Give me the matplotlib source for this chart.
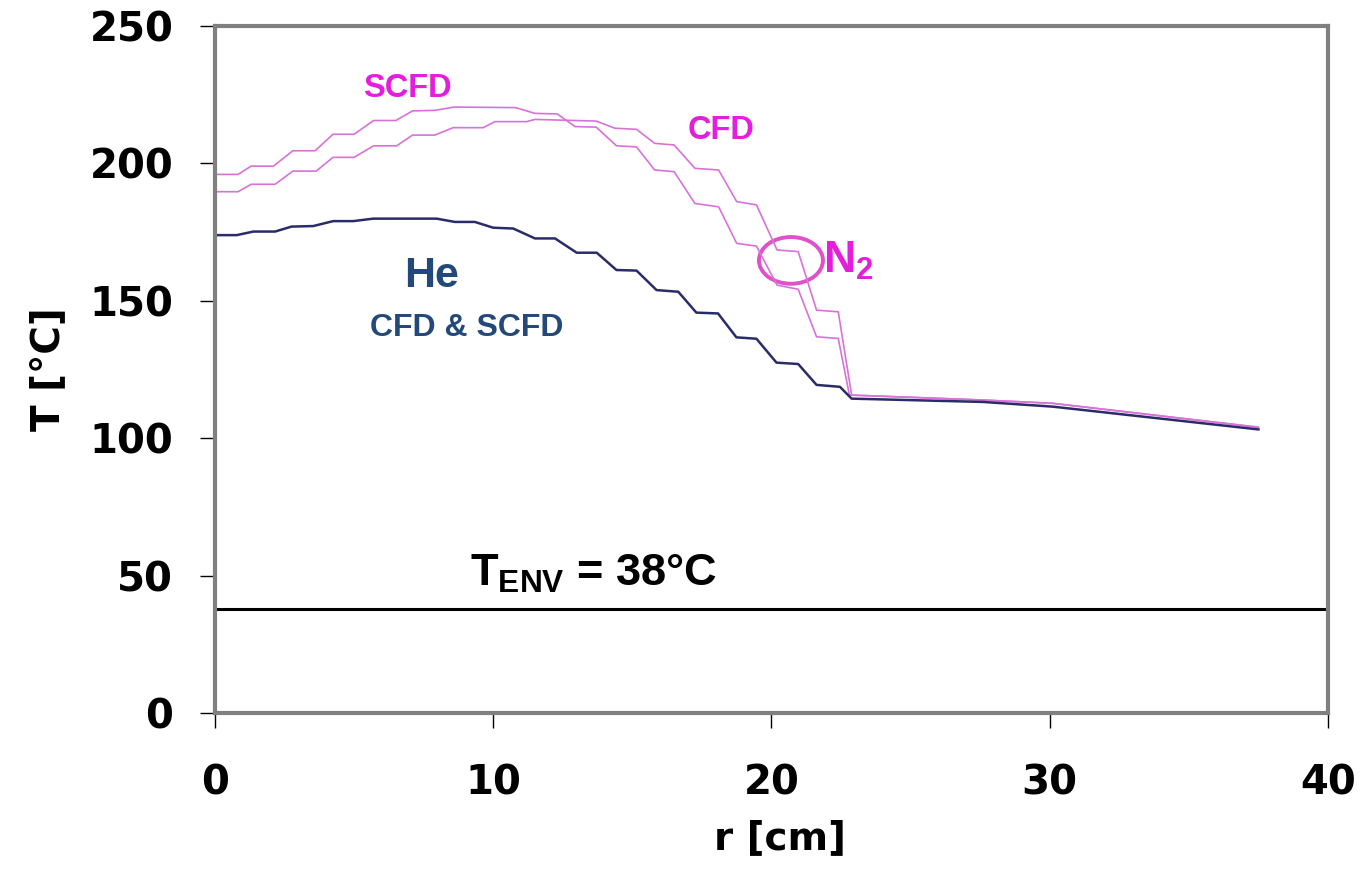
import matplotlib
matplotlib.use("Agg")
import matplotlib.pyplot as plt
from matplotlib.patches import Ellipse

plt.rcParams['font.family'] = ['Liberation Sans', 'DejaVu Sans']
plt.rcParams['mathtext.fontset'] = 'custom'
plt.rcParams['mathtext.rm'] = 'Liberation Sans:bold'
plt.rcParams['mathtext.bf'] = 'Liberation Sans:bold'

# Radial temperature profiles, r [cm] vs T [degC]
r_n2_scfd = [0, 0.83, 1.3, 2.1, 2.8, 3.6, 4.24, 5.0, 5.7, 6.5, 7.1, 7.9, 8.6, 10.8,
             11.5, 12.3, 12.94, 13.7, 14.43, 15.15, 15.8, 16.5, 17.25, 18.1, 18.75,
             19.46, 20.2, 20.96, 21.62, 22.4, 22.8, 27.6, 30.1, 37.5]
t_n2_scfd = [196.0, 196.0, 199.0, 199.0, 204.6, 204.6, 210.6, 210.6, 215.6, 215.6,
             219.1, 219.3, 220.5, 220.3, 218.2, 218.0, 213.4, 213.2, 206.4, 206.0,
             197.6, 197.0, 185.4, 184.2, 170.9, 169.9, 155.7, 154.2, 136.9, 136.3,
             115.7, 113.9, 112.7, 104.0]

r_n2_cfd = [0, 0.83, 1.3, 2.16, 2.8, 3.64, 4.24, 5.0, 5.7, 6.53, 7.1, 7.9, 8.56, 9.64,
            10.06, 11.2, 11.5, 13.7, 14.37, 15.15, 15.8, 16.5, 17.25, 18.1, 18.75,
            19.46, 20.2, 20.96, 21.62, 22.4, 22.88, 27.6, 30.1, 37.5]
t_n2_cfd = [189.7, 189.7, 192.4, 192.4, 197.2, 197.2, 202.2, 202.2, 206.4, 206.4,
            210.3, 210.3, 213.0, 213.0, 215.2, 215.2, 216.0, 215.4, 212.8, 212.4,
            207.3, 206.7, 198.2, 197.6, 186.1, 184.9, 168.5, 167.9, 146.6, 146.0,
            115.7, 113.9, 112.7, 104.0]

r_he = [0, 0.78, 1.38, 2.16, 2.75, 3.53, 4.25, 4.97, 5.69, 7.97, 8.62, 9.34, 10.0,
        10.72, 11.5, 12.22, 13.0, 13.72, 14.43, 15.15, 15.87, 16.65, 17.3, 18.08,
        18.74, 19.46, 20.18, 20.96, 21.62, 22.46, 22.88, 27.6, 30.1, 37.5]
t_he = [173.9, 173.9, 175.2, 175.2, 177.0, 177.2, 179.0, 179.0, 179.9, 179.9, 178.7,
        178.7, 176.6, 176.3, 172.7, 172.7, 167.5, 167.5, 161.2, 161.0, 153.9, 153.3,
        145.7, 145.4, 136.7, 136.2, 127.5, 127.0, 119.4, 118.7, 114.4, 113.2, 111.5,
        103.2]

t_env = 38

x_ticks = [0, 10, 20, 30, 40]
y_ticks = [0, 50, 100, 150, 200, 250]

pink = '#D872D8'
navy = '#2A2C6A'
magenta = '#E41EDC'
blue_txt = '#23497A'
frame = '#808080'
heavy = {'family': 'DejaVu Sans', 'weight': 'bold'}

fig = plt.figure(figsize=(13.64, 8.84), dpi=100)
ax = fig.add_axes([0.1576, 0.1934, 0.8160, 0.7772])

ax.plot(r_n2_scfd, t_n2_scfd, color=pink, lw=1.2)
ax.plot(r_n2_cfd, t_n2_cfd, color=pink, lw=1.2)
ax.plot(r_he, t_he, color=navy, lw=1.8)
ax.axhline(t_env, color='black', lw=2.2)

ax.add_patch(Ellipse((20.7, 164.7), 2.3, 17.0, fill=False,
                     edgecolor='#E050C8', lw=2.8))

ax.set_xlim(0, 40)
ax.set_ylim(0, 250)
ax.set_xticks(x_ticks)
ax.set_yticks(y_ticks)
for s in ax.spines.values():
    s.set_color(frame)
    s.set_linewidth(3)
ax.tick_params(axis='both', direction='out', length=11, width=1, color='black')
ax.tick_params(axis='y', pad=19)
ax.tick_params(axis='x', pad=25)
for lab in ax.get_xticklabels() + ax.get_yticklabels():
    lab.set_fontfamily('DejaVu Sans')
    lab.set_fontweight('bold')
    lab.set_fontsize(29)

ax.set_xlabel('r [cm]', fontdict=heavy, fontsize=28, labelpad=12)
ax.xaxis.set_label_coords(0.508, -0.155)
ax.set_ylabel('T [°C]', fontdict=heavy, fontsize=28, labelpad=16)

ax.text(6.9, 221.5, 'SCFD', color=magenta, fontsize=23.5, fontweight='bold',
        ha='center', va='bottom')
ax.text(18.2, 212, 'CFD', color=magenta, fontsize=23.5, fontweight='bold',
        ha='center', va='center')
ax.text(21.85, 164.5, r'N$_{\mathrm{2}}$', color=magenta, fontsize=32,
        fontweight='bold', ha='left', va='center')
ax.text(7.8, 159, 'He', color=blue_txt, fontsize=31, fontweight='bold',
        ha='center', va='center')
ax.text(9.05, 140, 'CFD & SCFD', color=blue_txt, fontsize=23, fontweight='bold',
        ha='center', va='center')
ax.text(9.15, 43, r'T$_{\mathrm{ENV}}$ = 38°C', color='black', fontsize=32.5,
        fontweight='bold', ha='left', va='bottom')

fig.savefig('out.png', dpi=100)
